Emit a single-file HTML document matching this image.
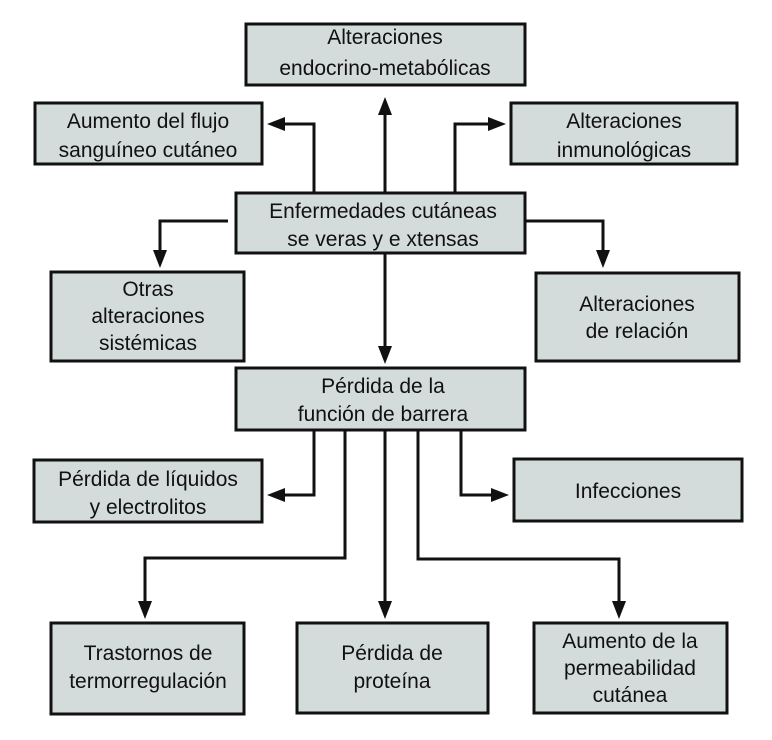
<!DOCTYPE html>
<html><head><meta charset="utf-8"><style>
html,body{margin:0;padding:0;background:#fff;}
svg{display:block;}
text{font-family:"Liberation Sans",Arial,sans-serif;font-size:21px;fill:#111;text-anchor:middle;}
rect{fill:#d3dbdb;stroke:#111;stroke-width:3;}
path.l{fill:none;stroke:#111;stroke-width:3;}
polygon{fill:#111;}
</style></head><body>
<svg width="772" height="740" viewBox="0 0 772 740" xmlns="http://www.w3.org/2000/svg">
<rect x="246" y="24" width="279" height="61"/>
<text x="385" y="44">Alteraciones</text><text x="385" y="75">endocrino-metabólicas</text>
<rect x="35" y="103" width="227" height="61"/>
<text x="148" y="128">Aumento del flujo</text><text x="148" y="157">sanguíneo cutáneo</text>
<rect x="511" y="103" width="226" height="61"/>
<text x="624" y="128">Alteraciones</text><text x="624" y="157">inmunológicas</text>
<rect x="236" y="193" width="289" height="60"/>
<text x="383" y="218">Enfermedades cutáneas</text><text x="383" y="246">se veras y e xtensas</text>
<rect x="51" y="272" width="193" height="89"/>
<text x="148" y="296">Otras</text><text x="148" y="323">alteraciones</text><text x="148" y="350">sistémicas</text>
<rect x="536" y="273" width="203" height="88"/>
<text x="637" y="311">Alteraciones</text><text x="637" y="338">de relación</text>
<rect x="236" y="368" width="289" height="62"/>
<text x="383" y="393">Pérdida de la</text><text x="383" y="421">función de barrera</text>
<rect x="34" y="460" width="228" height="62"/>
<text x="148" y="486">Pérdida de líquidos</text><text x="148" y="514">y electrolitos</text>
<rect x="514" y="459" width="228" height="62"/>
<text x="628" y="498">Infecciones</text>
<rect x="51" y="623" width="193" height="91"/>
<text x="148" y="660">Trastornos de</text><text x="148" y="688">termorregulación</text>
<rect x="297" y="623" width="191" height="90"/>
<text x="392" y="660">Pérdida de</text><text x="392" y="688">proteína</text>
<rect x="534" y="623" width="193" height="90"/>
<text x="630" y="648">Aumento de la</text><text x="630" y="675">permeabilidad</text><text x="630" y="702">cutánea</text>
<path class="l" d="M385 193 V110"/><polygon points="385,97 378,115 392,115"/>
<path class="l" d="M314 193 V124 H280"/><polygon points="267,124 285,117 285,131"/>
<path class="l" d="M455 193 V124 H492"/><polygon points="506,124 488,117 488,131"/>
<path class="l" d="M228 221 H160 V255"/><polygon points="160,268 153,250 167,250"/>
<path class="l" d="M525 221 H603 V255"/><polygon points="603,268 596,250 610,250"/>
<path class="l" d="M385 253 V350"/><polygon points="385,364 378,346 392,346"/>
<path class="l" d="M314 430 V495 H280"/><polygon points="267,495 285,488 285,502"/>
<path class="l" d="M461 430 V495 H495"/><polygon points="509,495 491,488 491,502"/>
<path class="l" d="M345 430 V558 H145 V605"/><polygon points="145,619 138,601 152,601"/>
<path class="l" d="M385 430 V605"/><polygon points="385,619 378,601 392,601"/>
<path class="l" d="M418 430 V559 H619 V605"/><polygon points="619,619 612,601 626,601"/>
</svg>
</body></html>
